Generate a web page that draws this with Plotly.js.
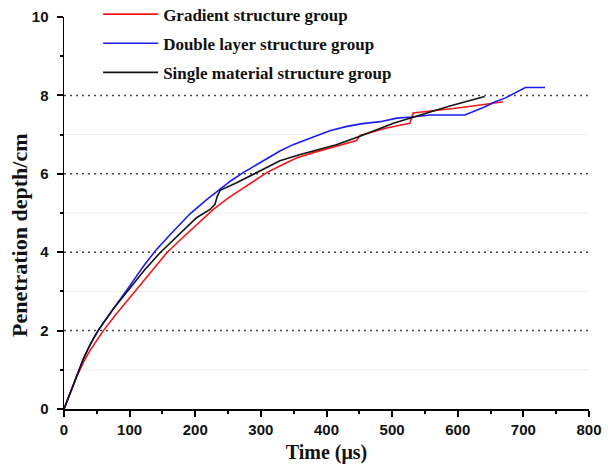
<!DOCTYPE html>
<html>
<head>
<meta charset="utf-8">
<script src="https://cdn.plot.ly/plotly-3.0.1.min.js"></script>
<style>html,body{margin:0;padding:0;background:#fff;}#chart{width:608px;height:472px;}</style>
</head>
<body>
<div id="chart"></div>
<script>
// Gradient structure group
var gradT = [0,10,20,30,40,50,60,80,100,113,135,156.5,175,192,210,227.6,250,273,290,309,329,355,380,400,420,446,451,470,490,510,527,532,560,600,640,669];
var gradD = [0,0.42,0.85,1.2,1.5,1.75,2.0,2.43,2.83,3.09,3.55,3.98,4.28,4.54,4.82,5.09,5.38,5.64,5.83,6.03,6.2,6.41,6.54,6.63,6.73,6.85,6.98,7.07,7.16,7.23,7.29,7.55,7.6,7.68,7.77,7.84];
// Double layer structure group
var dblT = [0,10,20,30,40,50,60,80,98,121,139,162,192,217.5,238,255,273,290,310,329,350,380,405,431,455,482,507,530,558,611,640,657,672,703,733];
var dblD = [0,0.45,0.9,1.3,1.65,1.95,2.2,2.66,3.09,3.64,4.03,4.45,4.98,5.34,5.6,5.83,6.03,6.2,6.4,6.58,6.75,6.95,7.1,7.21,7.28,7.33,7.42,7.45,7.5,7.5,7.7,7.84,7.93,8.2,8.2];
// Single material structure group
var sglT = [0,10,20,30,40,52,75,100.6,123,146,172,202,222.6,230,233,238,263,294,329,360,415,450,502,588,641];
var sglD = [0,0.45,0.9,1.3,1.65,2.0,2.55,3.09,3.55,3.98,4.41,4.88,5.09,5.22,5.4,5.58,5.77,6.03,6.33,6.49,6.74,6.95,7.29,7.73,7.97];

var names = ["Gradient structure group","Double layer structure group","Single material structure group"];
var colors = ["#f01818","#1c1cf0","#141414"];

var majorGrid = [2,4,6,8];
var minorGrid = [1,3,5,7];
var xTicks = [0,100,200,300,400,500,600,700,800];
var xMinor = [50,150,250,350,450,550,650,750];
var yTicks = [0,2,4,6,8,10];
var yMinor = [1,3,5,7,9];
var yTitle = "Penetration depth/cm";
var xTitle = "Time (\u03bcs)";

var series = [[gradT,gradD],[dblT,dblD],[sglT,sglD]];
var traces = series.map(function(s,i){
  return {x:s[0], y:s[1], type:'scatter', mode:'lines', name:names[i],
    legendgroup:'g'+i, line:{color:colors[i], width:1.6}};
});

var shapes = [];
majorGrid.forEach(function(v){
  shapes.push({type:'line', xref:'paper', x0:0, x1:1, yref:'y', y0:v, y1:v, layer:'below',
    line:{color:'#444', width:1.5, dash:'2px,4px'}});
});
minorGrid.forEach(function(v){
  shapes.push({type:'line', xref:'paper', x0:0, x1:1, yref:'y', y0:v, y1:v, layer:'below',
    line:{color:'#dcdcdc', width:1, dash:'1px,1px'}});
});

var tickFont = {family:'"Liberation Sans", Arial, sans-serif', size:15, color:'#111', weight:'bold'};
var serif = '"Liberation Serif", "Times New Roman", serif';

var layout = {
  width:608, height:472,
  margin:{l:64, r:19, t:17, b:63, autoexpand:false},
  paper_bgcolor:'#fff', plot_bgcolor:'#fff',
  showlegend:true,
  legend:{x:0.065, y:1.052, xanchor:'left', yanchor:'top', bgcolor:'rgba(255,255,255,0)',
    font:{family:serif, size:17, color:'#111', weight:'bold'},
    tracegroupgap:4, itemwidth:55},
  xaxis:{range:[0,800], tickvals:xTicks, showgrid:false, zeroline:false,
    showline:true, linecolor:'#000', linewidth:1.5, ticks:'outside', ticklen:6, tickwidth:2, tickcolor:'#000',
    tickfont:tickFont,
    minor:{tickvals:xMinor, ticks:'outside', ticklen:3, tickwidth:2, tickcolor:'#000', showgrid:false},
    title:{text:xTitle, font:{family:serif, size:20, color:'#111', weight:'bold'}, standoff:8}},
  yaxis:{range:[0,10], tickvals:yTicks, showgrid:false, zeroline:false,
    showline:true, linecolor:'#000', linewidth:1.5, ticks:'outside', ticklen:6, tickwidth:2, tickcolor:'#000',
    tickfont:tickFont, ticklabelstandoff:5,
    minor:{tickvals:yMinor, ticks:'outside', ticklen:3, tickwidth:2, tickcolor:'#000', showgrid:false}},
  annotations:[{text:yTitle, textangle:-90, xref:'paper', yref:'paper', x:0, y:0.5, xanchor:'center', yanchor:'middle',
    xshift:-45, yshift:-23, showarrow:false, font:{family:serif, size:22, color:'#111', weight:'bold'}}],
  shapes:shapes
};

Plotly.newPlot('chart', traces, layout, {displayModeBar:false, staticPlot:true});
</script>
</body>
</html>
